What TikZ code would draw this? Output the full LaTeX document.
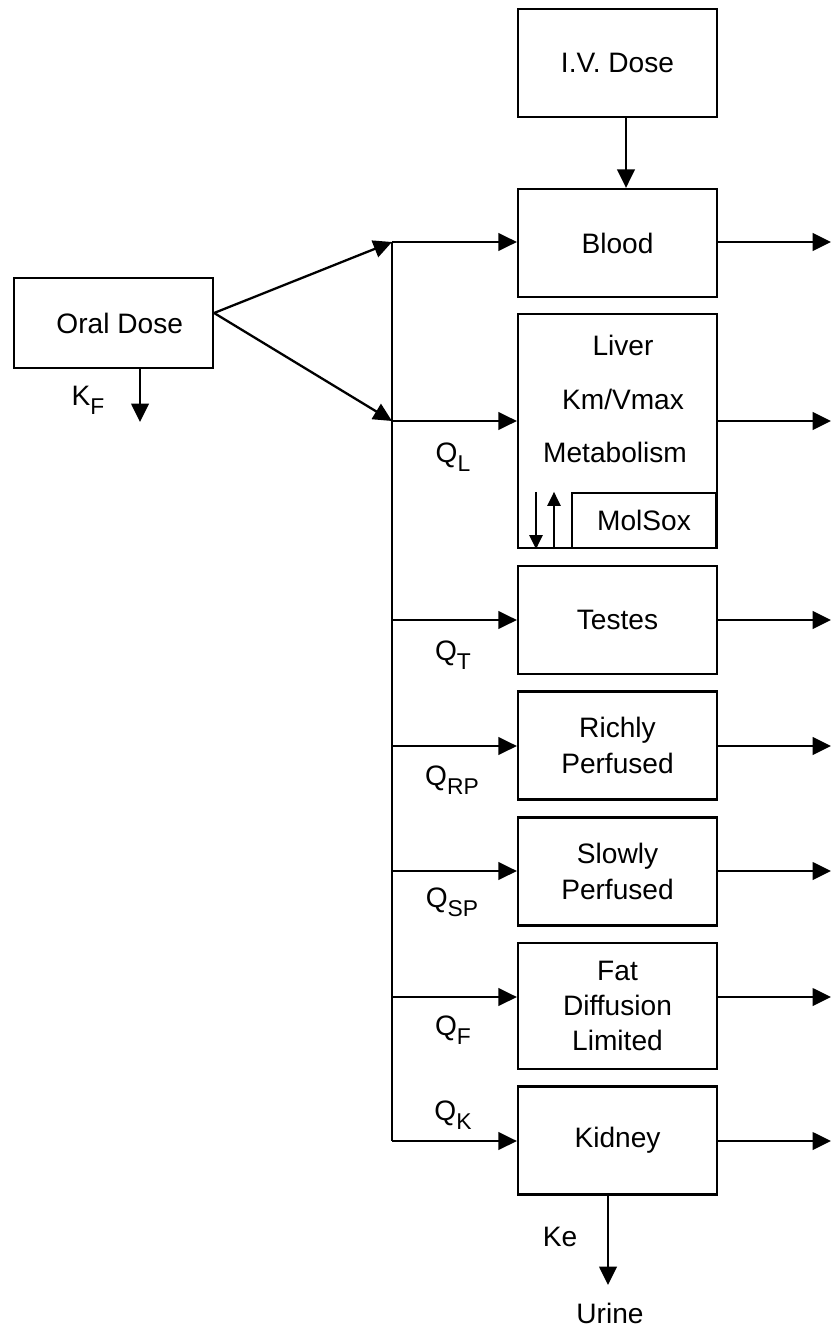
\documentclass[tikz,border=0pt]{standalone}
\usepackage{fontspec}
\setmainfont{Liberation Sans}
\usetikzlibrary{arrows.meta}
\newcommand{\qsub}[1]{\raisebox{-0.6ex}{\fontsize{13}{15}\selectfont #1}}
\begin{document}
\begin{tikzpicture}[x=0.02cm,y=-0.02cm]
    \tikzset{%
        n/.style={draw, line width=1.3pt, minimum width=3.98cm, minimum height=2.16cm, align=center, font=\fontsize{16}{20}\selectfont},
        e/.style={-{Triangle[length=10.5pt,width=10pt]}, line width=1.3pt},
        es/.style={-{Triangle[length=8pt,width=7.5pt]}, line width=1.1pt},
        t/.style={inner sep=0pt, font=\fontsize{16}{20}\selectfont}%
        }
    \useasboundingbox (0,0) rectangle (832,1327);
    \node[n](iv)at(617.5,63){I.V. Dose};
    \node[n](blood)at(617.5,243){Blood};
    \node[n, minimum height=4.68cm](liver)at(617.5,431){};
    \node[t](liv1)at(623,345){Liver};
    \node[t](liv2)at(623,399){Km/Vmax};
    \node[t](liv3)at(615,452){Metabolism};
    \node[n, minimum width=2.88cm, minimum height=1.1cm](molsox)at(644,520.5){MolSox};
    \node[n](testes)at(617.5,620){Testes};
    \node[n](rp)at(617.5,745.5){Richly\\Perfused};
    \node[n](sp)at(617.5,871.5){Slowly\\Perfused};
    \node[n, minimum height=2.52cm](fat)at(617.5,1006){Fat\\Diffusion\\Limited};
    \node[n](kidney)at(617.5,1140.5){Kidney};
    \node[n, minimum height=1.8cm](oral)at(113.5,323){\hspace{0.25cm}Oral Dose};
    % flow labels
    \node[t](kf)at(88,400){K\qsub{F}};
    \node[t](ql)at(453,457){Q\qsub{L}};
    \node[t](qt)at(453,655){Q\qsub{T}};
    \node[t](qrp)at(452,780){Q\qsub{RP}};
    \node[t](qsp)at(452,902){Q\qsub{SP}};
    \node[t](qf)at(453,1030){Q\qsub{F}};
    \node[t](qk)at(453,1115){Q\qsub{K}};
    \node[t](ke)at(560,1237){Ke};
    \node[t](urine)at(610,1313){Urine};
    % trunk and ends
    \foreach \r/\y in {b/242,l/421,t/620,rp/746,sp/871,f/997,k/1141}{
        \coordinate(t\r)at(392,\y);
        \coordinate(o\r)at(831,\y);
    }
    \coordinate(kfend)at(140,422);
    \coordinate(uend)at(608,1285);
    \coordinate(mdown)at(536,0);
    \coordinate(mup)at(554,0);
    \draw[line width=1.3pt](tb)--(tk);
    \path
    ([yshift=0.2cm]oral.east)edge[e](tb)
    ([yshift=0.2cm]oral.east)edge[e](tl)
    (kfend|-oral.south)edge[e](kfend)
    ([xshift=0.17cm]iv.south)edge[e]([xshift=0.17cm]blood.north)
    (tb)edge[e](tb-|blood.west)
    (tl)edge[e](tl-|liver.west)
    (tt)edge[e](tt-|testes.west)
    (trp)edge[e](trp-|rp.west)
    (tsp)edge[e](tsp-|sp.west)
    (tf)edge[e](tf-|fat.west)
    (tk)edge[e](tk-|kidney.west)
    (tb-|blood.east)edge[e](ob)
    (tl-|liver.east)edge[e](ol)
    (tt-|testes.east)edge[e](ot)
    (trp-|rp.east)edge[e](orp)
    (tsp-|sp.east)edge[e](osp)
    (tf-|fat.east)edge[e](of)
    (tk-|kidney.east)edge[e](ok)
    (mdown|-molsox.north)edge[es](mdown|-molsox.south)
    (mup|-molsox.south)edge[es](mup|-molsox.north)
    (uend|-kidney.south)edge[e](uend);
\end{tikzpicture}
\end{document}
